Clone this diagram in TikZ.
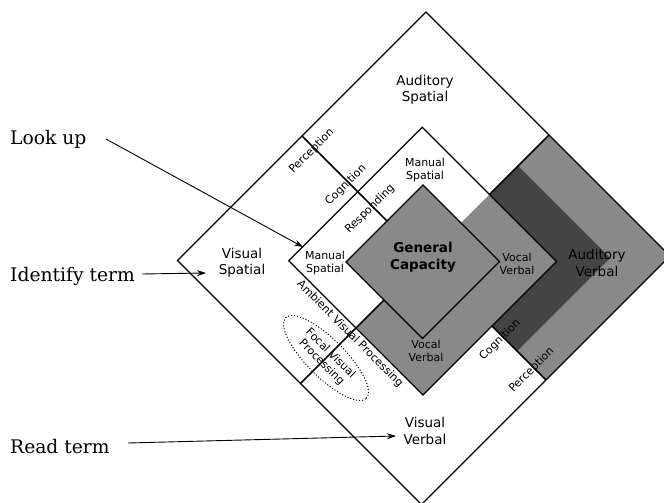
\documentclass[tikz,border=0pt]{standalone}
\usepackage{fontspec}
\setmainfont{DejaVu Serif}
\setsansfont{DejaVu Sans}
\usetikzlibrary{arrows.meta,shapes.geometric}
\definecolor{midgray}{RGB}{137,137,137}
\definecolor{darkband}{RGB}{68,68,68}

\begin{document}
\begin{tikzpicture}[x=1pt,y=-1pt,
  edge/.style={line width=1.1pt, line join=miter},
  divider/.style={line width=1.5pt},
  quad/.style={font=\sffamily\fontsize{13.5}{16.5}\selectfont, align=center, inner sep=0pt},
  small/.style={font=\sffamily\fontsize{11}{13.5}\selectfont, align=center, inner sep=0pt},
  stage/.style={font=\sffamily\fontsize{11}{13}\selectfont, inner sep=0pt, rotate=45},
  channel/.style={font=\sffamily\fontsize{11}{12.5}\selectfont, align=center, inner sep=0pt, rotate=-45},
  term/.style={font=\fontsize{18.7}{22}\selectfont, inner sep=0pt, anchor=base west},
  pointer/.style={line width=0.9pt, -{Stealth[length=9pt,width=6pt]}},
]
\useasboundingbox (0,0) rectangle (664,503);
\clip (0,0) rectangle (664,503);

% diamond frame: s runs down-right, d runs up-right
\begin{scope}[x={(0.5pt,-0.5pt)}, y={(0.5pt,0.5pt)}]
  % auditory-verbal quadrant and its cognition band
  \fill[midgray] (684,166) -- (926,166) -- (926,414) -- (684,414) -- cycle;
  \fill[darkband] (684,166) -- (868,166) -- (868,352) -- (684,352) -- cycle;
  % responding diamond: manual (spatial) and vocal (verbal) halves
  \fill[white] (549.5,28) -- (684,28) -- (684,295) -- (549.5,295) -- cycle;
  \fill[midgray] (684,28) -- (818,28) -- (818,295) -- (684,295) -- cycle;
  \draw[edge] (549.5,28) -- (818,28) -- (818,295) -- (549.5,295) -- cycle;
  % general capacity
  \draw[edge, fill=midgray] (608,84) -- (761,84) -- (761,238) -- (608,238) -- cycle;
  % outer frame
  \draw[edge] (438,-83) -- (926,-83) -- (926,414) -- (438,414) -- cycle;
  % modality and code dividers
  \draw[divider] (438,166) -- (608,166);
  \draw[divider] (818,166) -- (926,166);
  \draw[divider] (684,-83) -- (684,84);
  \draw[divider] (684,295) -- (684,414);
\end{scope}

% quadrant labels
\node[quad] (as) at (425,90) {Auditory\\Spatial};
\node[quad] (vs) at (242,263) {Visual\\Spatial};
\node[quad] (vv) at (425,431) {Visual\\Verbal};
\node[quad] (av) at (597,263) {Auditory\\Verbal};

% response labels
\node[small] (mstop) at (425,170) {Manual\\Spatial};
\node[small] (msleft) at (325,263) {Manual\\Spatial};
\node[small] (vvright) at (517,264) {Vocal\\Verbal};
\node[small] (vvbottom) at (426,351) {Vocal\\Verbal};
\node[quad, font=\sffamily\bfseries\fontsize{13.5}{17}\selectfont] (gc) at (423,257) {General\\Capacity};

% stage labels
\node[stage] (perc1) at (311.7,150.8) {Perception};
\node[stage] (cog1) at (345.8,185) {Cognition};
\node[stage] (resp) at (370,209) {Responding};
\node[stage] (cog2) at (500,340) {Cognition};
\node[stage] (perc2) at (531.7,370) {Perception};

% visual channels
\node[channel] (ambient) at (350,334) {Ambient Visual Processing};
\node[channel, draw, dotted, line width=1pt, ellipse, minimum width=114pt, minimum height=38pt] (focal) at (326,358) {Focal Visual\\Processing};

% task terms and their pointers
\node[term] (lookup) at (10,144) {Look up};
\node[term] (identify) at (10,281) {Identify term};
\node[term] (read) at (10,453) {Read term};
\coordinate (lookupFrom) at (106,139);
\coordinate (lookupTo) at (303,247);
\coordinate (identifyFrom) at (142,274);
\coordinate (identifyTo) at (206,273);
\coordinate (readFrom) at (128,443);
\coordinate (readTo) at (396,436);
\draw[pointer] (lookupFrom) -- (lookupTo);
\draw[pointer] (identifyFrom) -- (identifyTo);
\draw[pointer] (readFrom) -- (readTo);
\end{tikzpicture}
\end{document}
